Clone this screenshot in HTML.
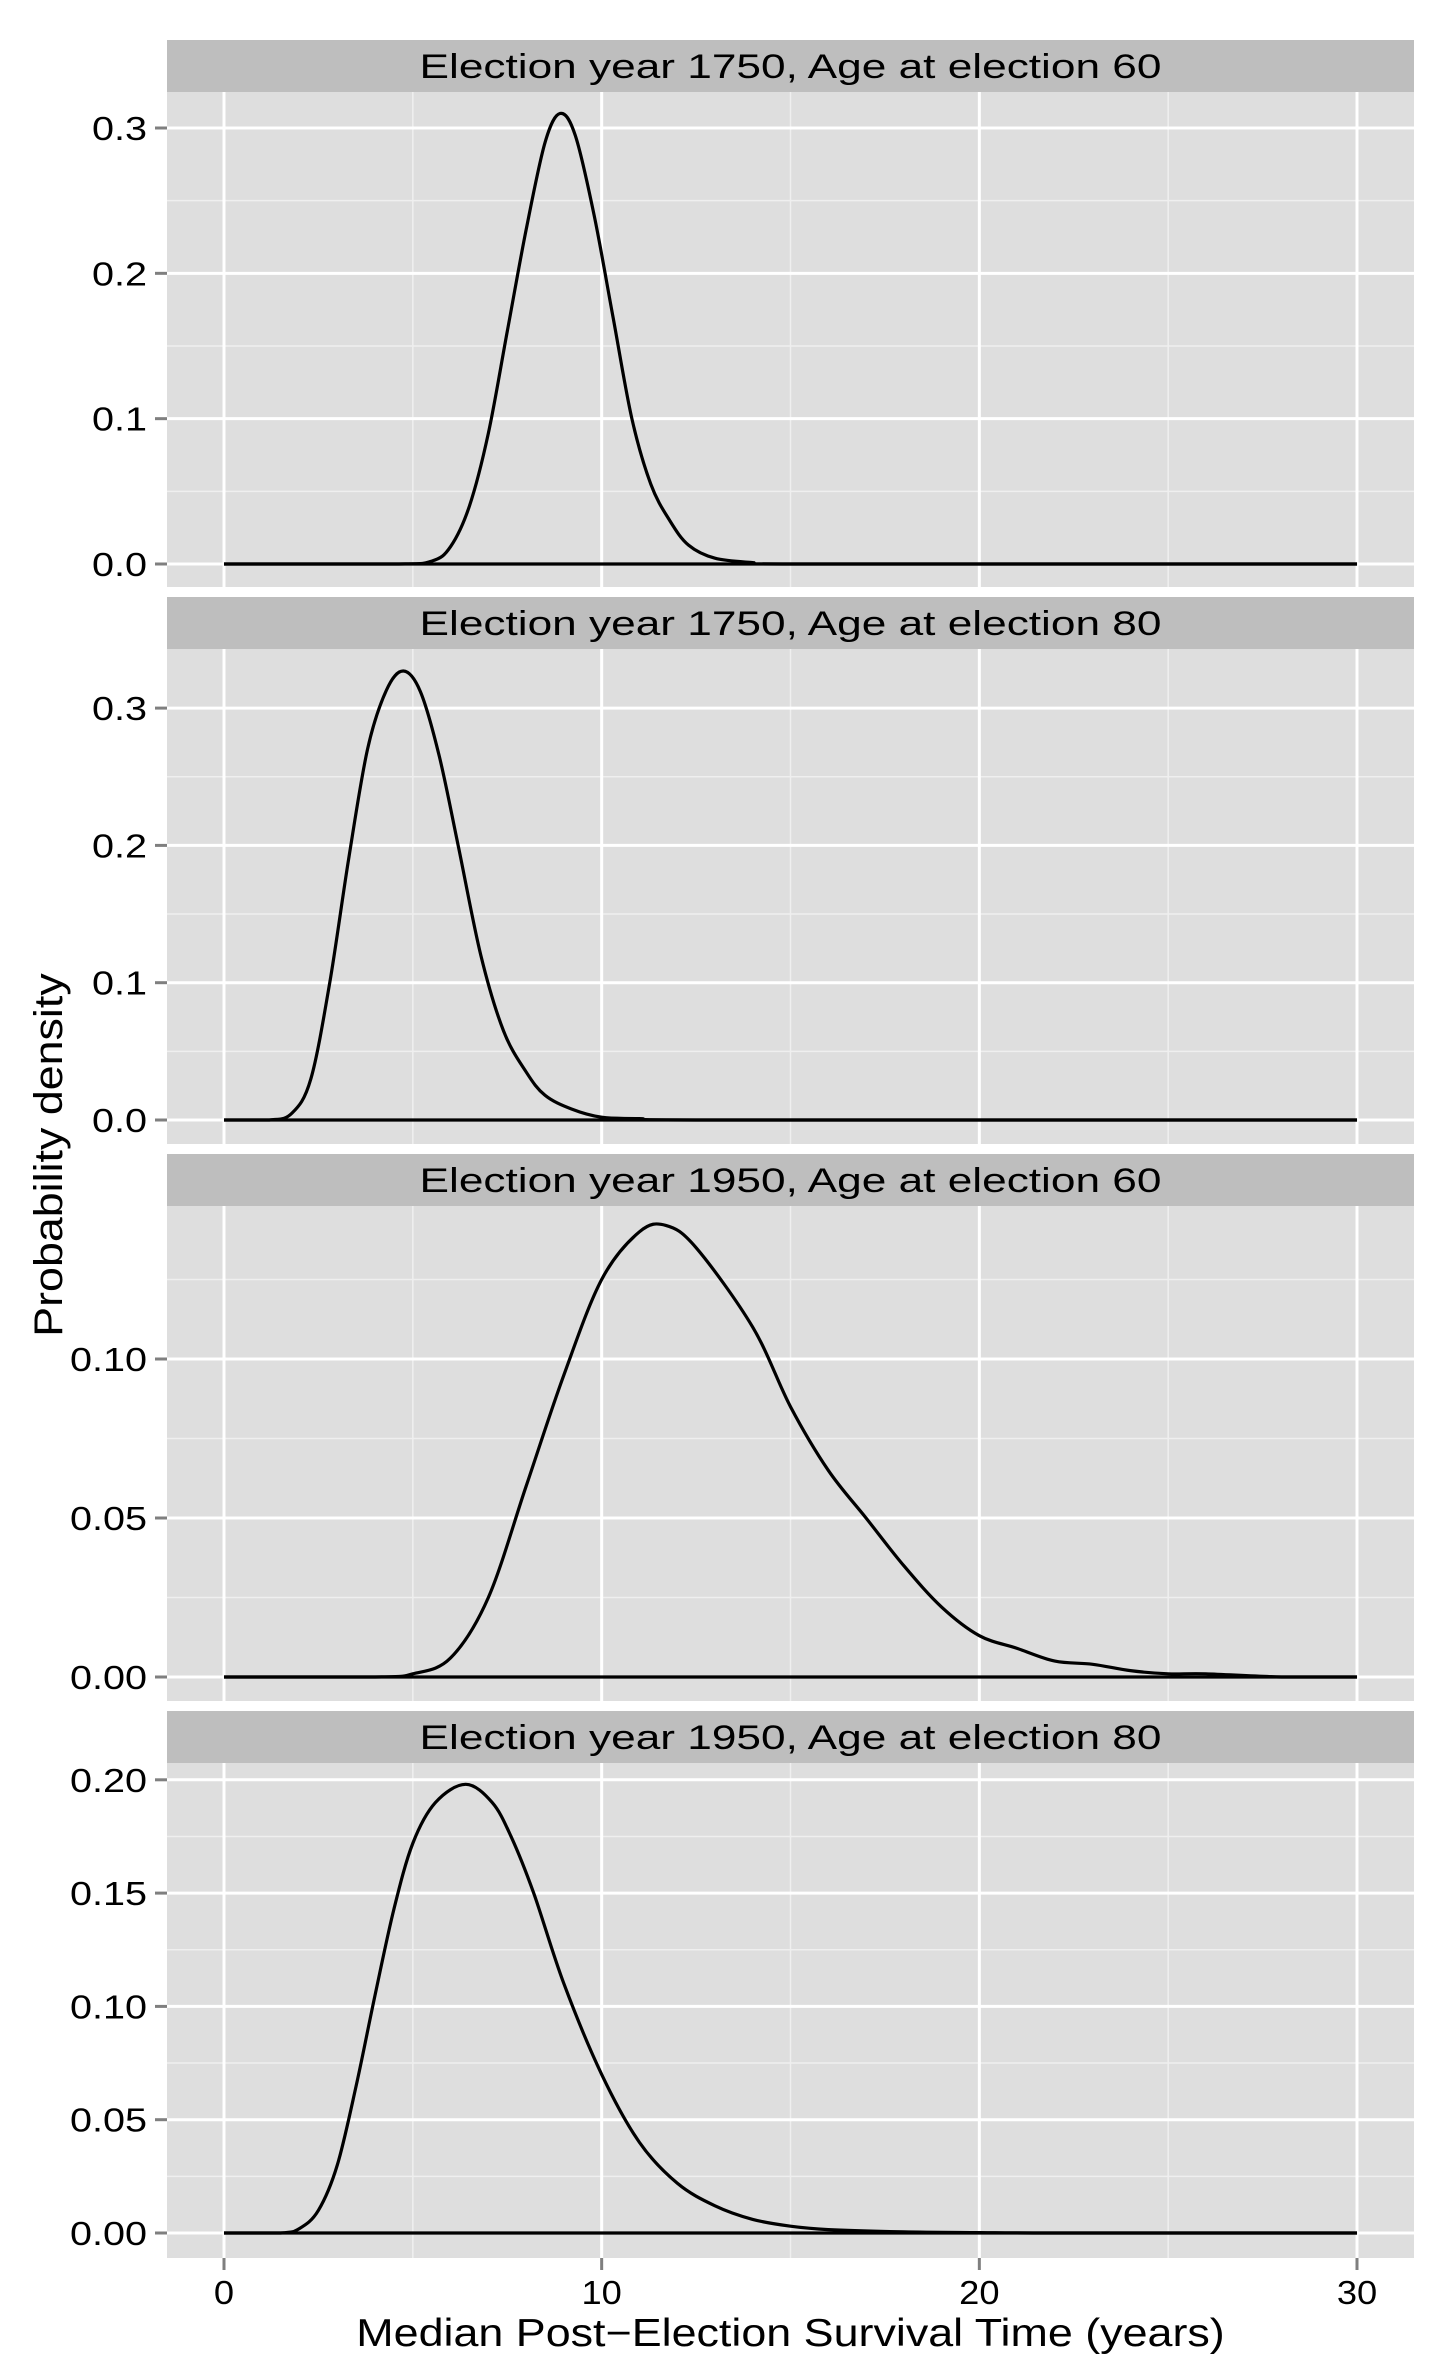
<!DOCTYPE html>
<html><head><meta charset="utf-8"><style>
html,body{margin:0;padding:0;background:#fff;}
svg text{font-family:"Liberation Sans",Arial,sans-serif;}
</style></head><body>
<svg id="s" xmlns="http://www.w3.org/2000/svg" width="1453" height="2375" viewBox="0 0 1453 2375"></svg>
<script>
const s=document.getElementById('s');let h='';
const X0=224,PX=37.767,L=167,R=1414;
const xp=x=>X0+x*PX;
const T=(x,y,fs,sx,anchor,txt)=>`<text transform="translate(${x},${y}) scale(${sx},1)" font-size="${fs}" text-anchor="${anchor}" fill="#000">${txt}</text>`;
const panels=[
 {t:"Election year 1750, Age at election 60",z:564,k:1453.3,ticks:[[0,"0.0"],[0.1,"0.1"],[0.2,"0.2"],[0.3,"0.3"]],
  pts:[[0,0],[4.5,0],[5.5,0.002],[6,0.012],[6.5,0.04],[7,0.09],[7.5,0.16],[8,0.23],[8.5,0.29],[8.9,0.31],[9.3,0.295],[9.8,0.24],[10.3,0.17],[10.8,0.1],[11.3,0.055],[11.8,0.03],[12.3,0.013],[13,0.004],[14,0.001],[15,0],[30,0]]},
 {t:"Election year 1750, Age at election 80",z:1120,k:1373,ticks:[[0,"0.0"],[0.1,"0.1"],[0.2,"0.2"],[0.3,"0.3"]],
  pts:[[0,0],[1.2,0],[1.8,0.005],[2.3,0.03],[2.8,0.1],[3.3,0.19],[3.8,0.27],[4.3,0.313],[4.75,0.327],[5.2,0.312],[5.7,0.265],[6.2,0.2],[6.8,0.12],[7.4,0.065],[8,0.035],[8.5,0.018],[9.2,0.008],[10,0.002],[11,0.001],[13,0],[30,0]]},
 {t:"Election year 1950, Age at election 60",z:1677,k:3180,ticks:[[0,"0.00"],[0.05,"0.05"],[0.1,"0.10"]],
  pts:[[0,0],[4,0],[5,0.001],[6,0.006],[7,0.025],[8,0.06],[9,0.095],[10,0.125],[11,0.14],[11.7,0.142],[12.5,0.135],[14,0.11],[15,0.085],[16,0.065],[17,0.05],[18,0.035],[19,0.022],[20,0.013],[21,0.009],[22,0.005],[23,0.004],[24,0.002],[25,0.001],[26,0.001],[28,0],[30,0]]},
 {t:"Election year 1950, Age at election 80",z:2233,k:2266,ticks:[[0,"0.00"],[0.05,"0.05"],[0.1,"0.10"],[0.15,"0.15"],[0.2,"0.20"]],
  pts:[[0,0],[1.5,0],[2,0.002],[2.5,0.01],[3,0.03],[3.5,0.065],[4,0.105],[4.5,0.143],[5,0.172],[5.6,0.19],[6.4,0.198],[7.1,0.19],[7.6,0.175],[8.2,0.15],[9,0.11],[10,0.07],[11,0.04],[12,0.022],[13,0.012],[14,0.006],[15,0.003],[16,0.0015],[18,0.0005],[20,0.0002],[22,0],[30,0]]}
];
panels.forEach((p,i)=>{
 const st=40+557*i,top=92+557*i,bot=587+557*i;
 h+=`<rect x="${L}" y="${st}" width="${R-L}" height="${top-st}" fill="#bebebe"/>`;
 h+=T((L+R)/2,(st+top)/2+12,34,1.3,"middle",p.t);
 h+=`<rect x="${L}" y="${top}" width="${R-L}" height="${bot-top}" fill="#dedede"/>`;
 const yp=v=>p.z-v*p.k;
 const step=p.ticks[1][0]-p.ticks[0][0];
 for(let v=-step/2;v<1;v+=step){const y=yp(v);if(y>top&&y<bot)h+=`<line x1="${L}" x2="${R}" y1="${y}" y2="${y}" stroke="#efefef" stroke-width="1.5"/>`;}
 [5,15,25].forEach(x=>h+=`<line x1="${xp(x)}" x2="${xp(x)}" y1="${top}" y2="${bot}" stroke="#efefef" stroke-width="1.5"/>`);
 p.ticks.forEach(([v,l])=>{const y=yp(v);
  h+=`<line x1="${L}" x2="${R}" y1="${y}" y2="${y}" stroke="#fff" stroke-width="3"/>`;
  h+=`<line x1="${L-12}" x2="${L}" y1="${y}" y2="${y}" stroke="#7f7f7f" stroke-width="3"/>`;
  h+=T(L-20,y+12,33,1.2,"end",l);});
 [0,10,20,30].forEach(x=>h+=`<line x1="${xp(x)}" x2="${xp(x)}" y1="${top}" y2="${bot}" stroke="#fff" stroke-width="3"/>`);
 const P=p.pts.map(([x,v])=>[xp(x),yp(Math.max(v,0))]);
 let d=`M${P[0][0]},${P[0][1]}`;
 for(let j=0;j<P.length-1;j++){const a=P[Math.max(j-1,0)],b=P[j],c=P[j+1],e=P[Math.min(j+2,P.length-1)];
  let c1y=b[1]+(c[1]-a[1])/6,c2y=c[1]-(e[1]-b[1])/6;c1y=Math.min(c1y,p.z);c2y=Math.min(c2y,p.z);
  d+=` C${b[0]+(c[0]-a[0])/6},${c1y} ${c[0]-(e[0]-b[0])/6},${c2y} ${c[0]},${c[1]}`;}
 h+=`<path d="${d}" fill="none" stroke="#000" stroke-width="3.2" stroke-linejoin="round"/>`;
 h+=`<line x1="${xp(0)}" x2="${xp(30)}" y1="${p.z}" y2="${p.z}" stroke="#000" stroke-width="3.2"/>`;
});
[0,10,20,30].forEach(x=>{h+=`<line x1="${xp(x)}" x2="${xp(x)}" y1="2258" y2="2270" stroke="#7f7f7f" stroke-width="3"/>`;
 h+=T(xp(x),2304,33,1.1,"middle",String(x));});
h+=T((L+R)/2,2346,39,1.15,"middle","Median Post\u2212Election Survival Time (years)");
h+=`<text transform="translate(62,1155) rotate(-90) scale(1.12,1)" font-size="40" text-anchor="middle">Probability density</text>`;
s.innerHTML=h;
</script>
</body></html>
